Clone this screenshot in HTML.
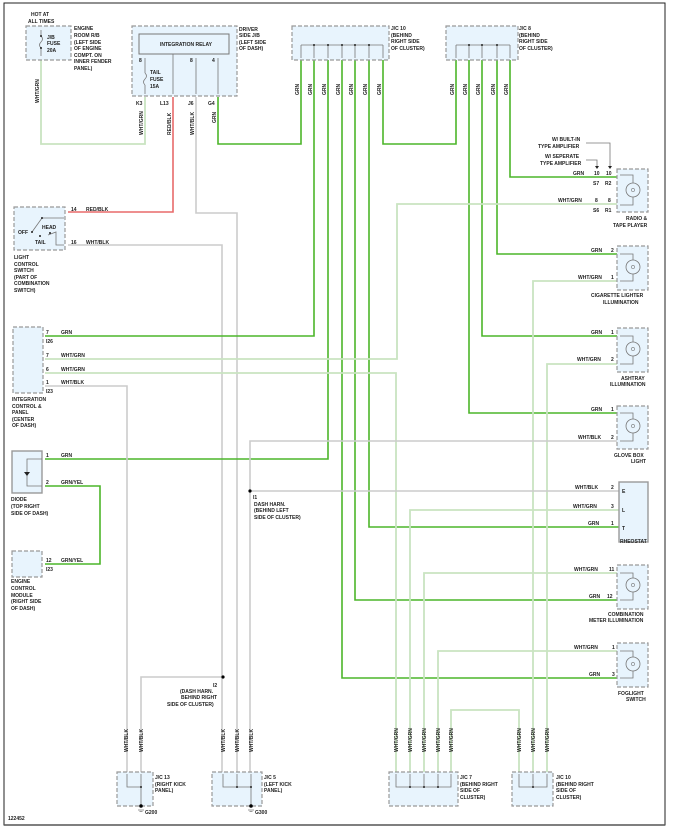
<!DOCTYPE html>
<html><head><meta charset="utf-8"><style>
html,body{margin:0;padding:0;background:#fff;}
svg{display:block;}
text{font-family:"Liberation Sans",sans-serif;font-size:5px;font-weight:bold;fill:#222;}
.g{stroke:#4cb52a;stroke-width:1.6;fill:none;}
.wg{stroke:#c9e4c1;stroke-width:1.8;fill:none;}
.wb{stroke:#cccccc;stroke-width:1.6;fill:none;}
.rb{stroke:#e86a6a;stroke-width:1.6;fill:none;}
.box{fill:#e8f4fd;stroke:#999;stroke-width:1.2;stroke-dasharray:4,2;}
.sbox{fill:#e8f4fd;stroke:#999;stroke-width:1.4;}
.in{stroke:#777;stroke-width:0.8;fill:none;}
</style></head><body>
<svg width="675" height="838" viewBox="0 0 675 838" xmlns="http://www.w3.org/2000/svg">
<rect x="4" y="3" width="661" height="822" fill="none" stroke="#222" stroke-width="1"/>
<line x1="4" y1="825" x2="665" y2="825" stroke="#555" stroke-width="1.5"/>
<text x="8" y="820">122452</text>

<!-- WIRES -->
<path class="wg" d="M41 60V144H145V97"/>
<path class="rb" d="M173 97V212H68"/>
<path class="wb" d="M196 97V213H237V772"/>
<path class="wb" d="M68 245H222V772"/>
<path class="g" d="M218 97V144H301V60"/>
<path class="g" d="M383 60V144H456V60"/>
<path class="g" d="M510 60V177H617"/>
<path class="g" d="M497 60V254H617"/>
<path class="g" d="M482 60V336H617"/>
<path class="g" d="M469 60V413H617"/>
<path class="g" d="M314 60V336H45"/>
<path class="g" d="M328 60V459H45"/>
<path class="g" d="M342 60V678H617"/>
<path class="g" d="M355 60V600H617"/>
<path class="g" d="M369 60V527H619"/>
<path class="wg" d="M617 204H397V359H45"/>
<path class="wg" d="M45 373H396V772"/>
<path class="wg" d="M617 281H533V772"/>
<path class="wg" d="M617 364H547V772"/>
<path class="wg" d="M619 510H410V772"/>
<path class="wg" d="M617 573H424V772"/>
<path class="wg" d="M617 651H438V772"/>
<path class="wg" d="M451 772V710H519V772"/>
<path class="wb" d="M45 386H127V772"/>
<path class="wb" d="M617 441H250V772"/>
<path class="wb" d="M250 491H619"/>
<path class="wb" d="M223 677H141V772"/>
<circle cx="250" cy="491" r="1.6" fill="#000"/>
<circle cx="223" cy="677" r="1.6" fill="#000"/>
<path class="g" d="M45 486H100V564H45"/>

<!-- TOP COMPONENTS -->
<text x="31" y="16">HOT AT</text><text x="28" y="23">ALL TIMES</text>
<rect class="box" x="26" y="26" width="45" height="34"/>
<path class="in" d="M41 30V36M41 48V56"/><path class="in" d="M41 36q3 3 0 6q-3 3 0 6"/>
<circle cx="41" cy="36" r="1" fill="#222"/><circle cx="41" cy="48" r="1" fill="#222"/>
<text x="47" y="39">J/B</text><text x="47" y="45">FUSE</text><text x="47" y="52">20A</text>
<text x="74" y="30">ENGINE</text><text x="74" y="37">ROOM R/B</text><text x="74" y="44">(LEFT SIDE</text><text x="74" y="50">OF ENGINE</text><text x="74" y="57">COMPT. ON</text><text x="74" y="63">INNER FENDER</text><text x="74" y="70">PANEL)</text>
<text transform="translate(39,103) rotate(-90)">WHT/GRN</text>

<rect class="box" x="132" y="26" width="105" height="70"/>
<rect x="139" y="34" width="90" height="20" fill="#e8f4fd" stroke="#777" stroke-width="1"/>
<text x="160" y="46">INTEGRATION RELAY</text>
<path class="in" d="M145 58V73M145 85V94M173 54V94M196 58V94M218 58V94"/>
<path class="in" d="M145 73q3 3 0 6q-3 3 0 6"/>
<text x="150" y="74">TAIL</text><text x="150" y="81">FUSE</text><text x="150" y="88">15A</text>
<text x="139" y="62">8</text><text x="190" y="62">8</text><text x="212" y="62">4</text>
<text x="239" y="31">DRIVER</text><text x="239" y="37">SIDE J/B</text><text x="239" y="44">(LEFT SIDE</text><text x="239" y="50">OF DASH)</text>
<text x="136" y="105">K3</text><text x="160" y="105">L13</text><text x="188" y="105">J6</text><text x="208" y="105">G4</text>
<text transform="translate(143,135) rotate(-90)">WHT/GRN</text>
<text transform="translate(171,135) rotate(-90)">RED/BLK</text>
<text transform="translate(194,135) rotate(-90)">WHT/BLK</text>
<text transform="translate(216,123) rotate(-90)">GRN</text>

<rect class="box" x="292" y="26" width="97" height="34"/>
<path class="in" d="M301 45H383M301 45V58M314 45V58M328 45V58M342 45V58M355 45V58M369 45V58M383 45V58"/>
<g fill="#222"><circle cx="314" cy="45" r="1"/><circle cx="328" cy="45" r="1"/><circle cx="342" cy="45" r="1"/><circle cx="355" cy="45" r="1"/><circle cx="369" cy="45" r="1"/></g>
<text x="391" y="30">J/C 10</text><text x="391" y="37">(BEHIND</text><text x="391" y="43">RIGHT SIDE</text><text x="391" y="50">OF CLUSTER)</text>
<rect class="box" x="446" y="26" width="72" height="34"/>
<path class="in" d="M456 45H510M456 45V58M469 45V58M482 45V58M497 45V58M510 45V58"/>
<g fill="#222"><circle cx="469" cy="45" r="1"/><circle cx="482" cy="45" r="1"/><circle cx="497" cy="45" r="1"/></g>
<text x="519" y="30">J/C 8</text><text x="519" y="37">(BEHIND</text><text x="519" y="43">RIGHT SIDE</text><text x="519" y="50">OF CLUSTER)</text>
<g>
<text transform="translate(299,95) rotate(-90)">GRN</text><text transform="translate(312,95) rotate(-90)">GRN</text><text transform="translate(326,95) rotate(-90)">GRN</text><text transform="translate(340,95) rotate(-90)">GRN</text><text transform="translate(353,95) rotate(-90)">GRN</text><text transform="translate(367,95) rotate(-90)">GRN</text><text transform="translate(381,95) rotate(-90)">GRN</text>
<text transform="translate(454,95) rotate(-90)">GRN</text><text transform="translate(467,95) rotate(-90)">GRN</text><text transform="translate(480,95) rotate(-90)">GRN</text><text transform="translate(495,95) rotate(-90)">GRN</text><text transform="translate(508,95) rotate(-90)">GRN</text>
</g>

<!-- LEFT COMPONENTS -->
<rect class="box" x="14" y="207" width="51" height="43"/>
<path class="in" d="M32 232L42 218H64M48 235L56 232V245H64"/>
<circle cx="32" cy="232" r="1" fill="#222"/><circle cx="42" cy="218" r="1" fill="#222"/><circle cx="40" cy="236" r="1" fill="#222"/><circle cx="50" cy="233" r="1" fill="#222"/>
<text x="18" y="234">OFF</text><text x="42" y="229">HEAD</text><text x="35" y="244">TAIL</text>
<text x="71" y="211">14</text><text x="86" y="211">RED/BLK</text>
<text x="71" y="244">16</text><text x="86" y="244">WHT/BLK</text>
<text x="14" y="259">LIGHT</text><text x="14" y="266">CONTROL</text><text x="14" y="272">SWITCH</text><text x="14" y="279">(PART OF</text><text x="14" y="285">COMBINATION</text><text x="14" y="292">SWITCH)</text>

<rect class="box" x="13" y="327" width="30" height="66"/>
<text x="46" y="334">7</text><text x="46" y="343">I26</text><text x="61" y="334">GRN</text>
<text x="46" y="357">7</text><text x="61" y="357">WHT/GRN</text>
<text x="46" y="371">6</text><text x="61" y="371">WHT/GRN</text>
<text x="46" y="384">1</text><text x="46" y="393">I23</text><text x="61" y="384">WHT/BLK</text>
<text x="12" y="401">INTEGRATION</text><text x="12" y="408">CONTROL &amp;</text><text x="12" y="414">PANEL</text><text x="12" y="421">(CENTER</text><text x="12" y="427">OF DASH)</text>

<rect class="sbox" x="12" y="451" width="30" height="42"/>
<path class="in" d="M42 459H27V486H42"/><path d="M24 472h6l-3 4z" fill="#222"/>
<text x="46" y="457">1</text><text x="61" y="457">GRN</text>
<text x="46" y="484">2</text><text x="61" y="484">GRN/YEL</text>
<text x="11" y="501">DIODE</text><text x="11" y="508">(TOP RIGHT</text><text x="11" y="515">SIDE OF DASH)</text>

<rect class="box" x="12" y="551" width="30" height="26"/>
<text x="46" y="562">12</text><text x="46" y="571">I23</text><text x="61" y="562">GRN/YEL</text>
<text x="11" y="583">ENGINE</text><text x="11" y="590">CONTROL</text><text x="11" y="597">MODULE</text><text x="11" y="603">(RIGHT SIDE</text><text x="11" y="610">OF DASH)</text>

<text x="253" y="499">I1</text><text x="254" y="506">DASH HARN.</text><text x="254" y="512">(BEHIND LEFT</text><text x="254" y="519">SIDE OF CLUSTER)</text>
<text x="213" y="687">I2</text><text x="180" y="693">(DASH HARN.</text><text x="181" y="699">BEHIND RIGHT</text><text x="167" y="706">SIDE OF CLUSTER)</text>

<!-- RIGHT COMPONENTS -->
<text x="552" y="141">W/ BUILT-IN</text><text x="538" y="148">TYPE AMPLIFIER</text>
<text x="545" y="158">W/ SEPERATE</text><text x="540" y="165">TYPE AMPLIFIER</text>
<path class="in" d="M586 143H610V167M586 160H597V167"/>
<path d="M595 166h4l-2 3zM608 166h4l-2 3z" fill="#222"/>
<g id="lamp"></g>
<rect class="box" x="617" y="169" width="31" height="43"/>
<circle cx="633" cy="190" r="7" fill="none" stroke="#777" stroke-width="0.8"/><circle cx="633" cy="190" r="1.6" fill="none" stroke="#777" stroke-width="0.6"/>
<path class="in" d="M620 175H633V183M633 197V205H620"/>
<text x="573" y="175">GRN</text><text x="594" y="175">10</text><text x="606" y="175">10</text><text x="593" y="185">S7</text><text x="605" y="185">R2</text>
<text x="558" y="202">WHT/GRN</text><text x="595" y="202">8</text><text x="608" y="202">8</text><text x="593" y="212">S6</text><text x="605" y="212">R1</text>
<text x="626" y="220">RADIO &amp;</text><text x="613" y="227">TAPE PLAYER</text>

<rect class="box" x="617" y="246" width="31" height="44"/>
<circle cx="633" cy="267" r="7" fill="none" stroke="#777" stroke-width="0.8"/><circle cx="633" cy="267" r="1.6" fill="none" stroke="#777" stroke-width="0.6"/>
<path class="in" d="M620 254H633V260M633 274V281H620"/>
<text x="591" y="252">GRN</text><text x="611" y="252">2</text><text x="578" y="279">WHT/GRN</text><text x="611" y="279">1</text>
<text x="591" y="297">CIGARETTE LIGHTER</text><text x="603" y="304">ILLUMINATION</text>

<rect class="box" x="617" y="328" width="31" height="44"/>
<circle cx="633" cy="349" r="7" fill="none" stroke="#777" stroke-width="0.8"/><circle cx="633" cy="349" r="1.6" fill="none" stroke="#777" stroke-width="0.6"/>
<path class="in" d="M620 336H633V342M633 356V364H620"/>
<text x="591" y="334">GRN</text><text x="611" y="334">1</text><text x="577" y="361">WHT/GRN</text><text x="611" y="361">2</text>
<text x="621" y="380">ASHTRAY</text><text x="610" y="386">ILLUMINATION</text>

<rect class="box" x="617" y="406" width="31" height="43"/>
<circle cx="633" cy="426" r="7" fill="none" stroke="#777" stroke-width="0.8"/><circle cx="633" cy="426" r="1.6" fill="none" stroke="#777" stroke-width="0.6"/>
<path class="in" d="M620 413H633V419M633 433V441H620"/>
<text x="591" y="411">GRN</text><text x="611" y="411">1</text><text x="578" y="439">WHT/BLK</text><text x="611" y="439">2</text>
<text x="614" y="457">GLOVE BOX</text><text x="631" y="463">LIGHT</text>

<rect class="sbox" x="619" y="482" width="29" height="60"/>
<text x="622" y="493">E</text><text x="622" y="512">L</text><text x="622" y="530">T</text>
<text x="575" y="489">WHT/BLK</text><text x="611" y="489">2</text>
<text x="573" y="508">WHT/GRN</text><text x="611" y="508">3</text>
<text x="588" y="525">GRN</text><text x="611" y="525">1</text>
<text x="620" y="543">RHEOSTAT</text>

<rect class="box" x="617" y="565" width="31" height="44"/>
<circle cx="633" cy="585" r="7" fill="none" stroke="#777" stroke-width="0.8"/><circle cx="633" cy="585" r="1.6" fill="none" stroke="#777" stroke-width="0.6"/>
<path class="in" d="M620 573H633V578M633 592V600H620"/>
<text x="574" y="571">WHT/GRN</text><text x="609" y="571">11</text><text x="589" y="598">GRN</text><text x="607" y="598">12</text>
<text x="608" y="616">COMBINATION</text><text x="589" y="622">METER ILLUMINATION</text>

<rect class="box" x="617" y="643" width="31" height="44"/>
<circle cx="633" cy="664" r="7" fill="none" stroke="#777" stroke-width="0.8"/><circle cx="633" cy="664" r="1.6" fill="none" stroke="#777" stroke-width="0.6"/>
<path class="in" d="M620 651H633V657M633 671V678H620"/>
<text x="574" y="649">WHT/GRN</text><text x="612" y="649">1</text><text x="589" y="676">GRN</text><text x="612" y="676">3</text>
<text x="618" y="695">FOGLIGHT</text><text x="626" y="701">SWITCH</text>

<!-- BOTTOM JUNCTIONS -->
<g>
<text transform="translate(128,752) rotate(-90)">WHT/BLK</text><text transform="translate(143,752) rotate(-90)">WHT/BLK</text>
<text transform="translate(225,752) rotate(-90)">WHT/BLK</text><text transform="translate(239,752) rotate(-90)">WHT/BLK</text><text transform="translate(253,752) rotate(-90)">WHT/BLK</text>
<text transform="translate(398,752) rotate(-90)">WHT/GRN</text><text transform="translate(412,752) rotate(-90)">WHT/GRN</text><text transform="translate(426,752) rotate(-90)">WHT/GRN</text><text transform="translate(440,752) rotate(-90)">WHT/GRN</text><text transform="translate(453,752) rotate(-90)">WHT/GRN</text>
<text transform="translate(521,752) rotate(-90)">WHT/GRN</text><text transform="translate(535,752) rotate(-90)">WHT/GRN</text><text transform="translate(549,752) rotate(-90)">WHT/GRN</text>
</g>
<rect class="box" x="117" y="772" width="36" height="34"/>
<path class="in" d="M127 774V787H141M141 774V806"/><circle cx="141" cy="787" r="1" fill="#222"/><circle cx="141" cy="806" r="1.8" fill="#000"/>
<text x="155" y="779">J/C 13</text><text x="155" y="786">(RIGHT KICK</text><text x="155" y="792">PANEL)</text>
<text x="145" y="814">G200</text><path class="in" d="M138 810h6M139.5 811.5h3"/>
<rect class="box" x="212" y="772" width="50" height="34"/>
<path class="in" d="M223 774V787H251M237 774V787M251 774V806"/><circle cx="237" cy="787" r="1" fill="#222"/><circle cx="251" cy="787" r="1" fill="#222"/><circle cx="251" cy="806" r="1.8" fill="#000"/>
<text x="264" y="779">J/C 5</text><text x="264" y="786">(LEFT KICK</text><text x="264" y="792">PANEL)</text>
<text x="255" y="814">G300</text><path class="in" d="M248 810h6M249.5 811.5h3"/>
<rect class="box" x="389" y="772" width="69" height="34"/>
<path class="in" d="M396 774V787H451V774M410 774V787M424 774V787M438 774V787"/>
<g fill="#222"><circle cx="410" cy="787" r="1"/><circle cx="424" cy="787" r="1"/><circle cx="438" cy="787" r="1"/></g>
<text x="460" y="779">J/C 7</text><text x="460" y="786">(BEHIND RIGHT</text><text x="460" y="792">SIDE OF</text><text x="460" y="799">CLUSTER)</text>
<rect class="box" x="512" y="772" width="41" height="34"/>
<path class="in" d="M519 774V787H547V774M533 774V787"/><circle cx="533" cy="787" r="1" fill="#222"/>
<text x="556" y="779">J/C 10</text><text x="556" y="786">(BEHIND RIGHT</text><text x="556" y="792">SIDE OF</text><text x="556" y="799">CLUSTER)</text>
</svg>
</body></html>
